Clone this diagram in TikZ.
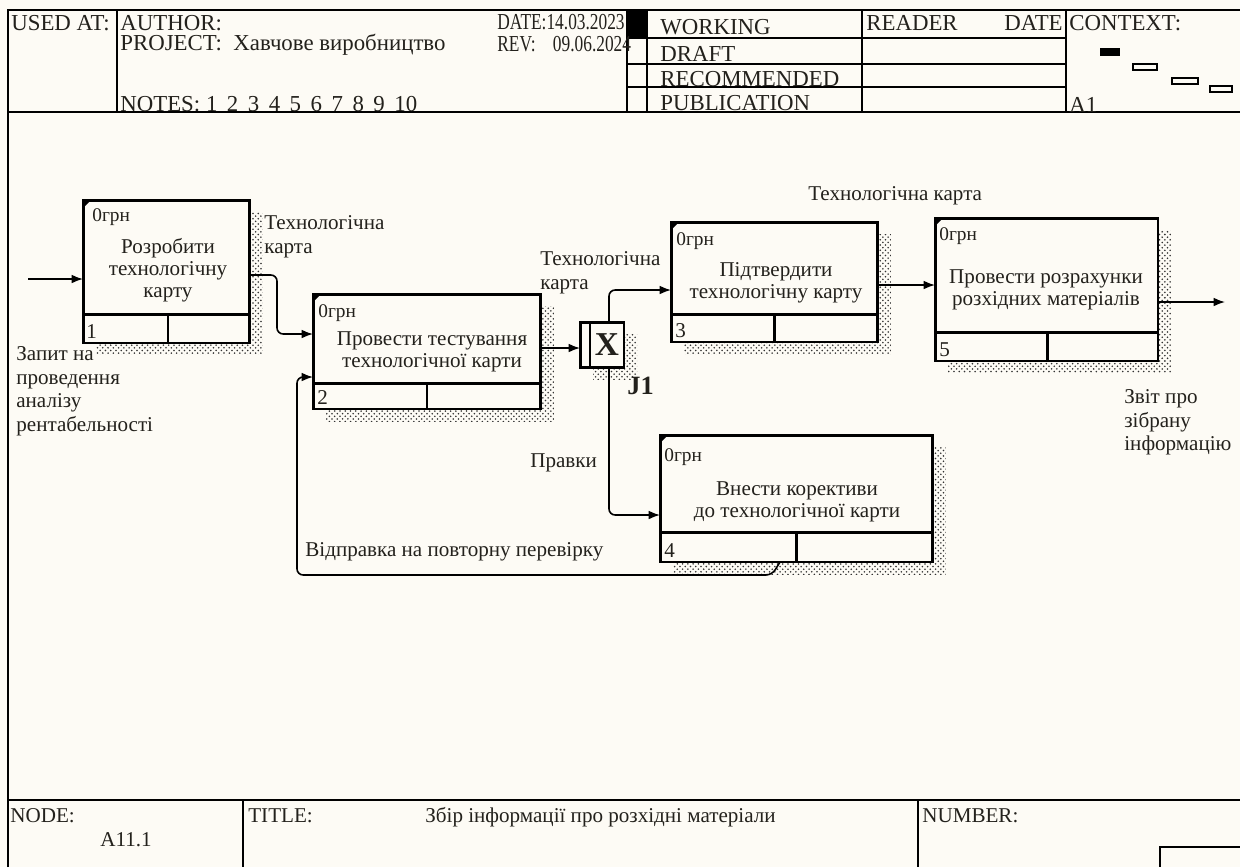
\documentclass[tikz,border=0pt]{standalone}
\usepackage{fontspec}
\setmainfont{Liberation Serif}
\newfontfamily\narrowserif[FakeStretch=0.76]{Liberation Serif}
\usepackage{tikz}
\usetikzlibrary{arrows.meta, patterns, shadows, positioning}

\definecolor{pagebg}{RGB}{253,251,245}
\definecolor{ink}{RGB}{35,33,28}

\tikzset{
  actbox/.style={draw, fill=pagebg, line width=1.7pt, inner sep=0pt, outer sep=0pt,
    general shadow={shadow xshift=0.26cm, shadow yshift=-0.24cm, pattern=crosshatch dots, pattern color=black!80}},
  flow/.style={line width=0.9pt, -{Latex[length=6.5pt, width=5pt]}, rounded corners=3.5pt},
  frame/.style={line width=1pt},
  hdr/.style={font=\fontsize{13}{15}\selectfont, text=ink, inner sep=0pt, anchor=base west},
  lbl/.style={font=\fontsize{12}{13.5}\selectfont, text=ink, inner sep=0pt, align=left, anchor=north west},
  boxtext/.style={font=\fontsize{12}{12.5}\selectfont, text=ink, inner sep=0pt, align=center},
  cost/.style={font=\fontsize{11}{12}\selectfont, text=ink, inner sep=0pt, anchor=base west},
}

\begin{document}
\begin{tikzpicture}[x=0.02cm, y=-0.02cm]
        \useasboundingbox (0,0) rectangle (1240,867);
        \fill[pagebg] (0,0) rectangle (1240,867);

        % Header frame
        \draw[frame] (8,867) -- (8,10) -- (1240,10);
        \draw[frame] (8,112) -- (1240,112);
        \draw[frame] (117,10) -- (117,112);
        \draw[frame] (627,10) -- (627,112);
        \draw[frame] (647,10) -- (647,112);
        \draw[frame] (862,10) -- (862,112);
        \draw[frame] (1066,10) -- (1066,112);
        \draw[frame] (627,38) -- (1066,38);
        \draw[frame] (627,64) -- (1066,64);
        \draw[frame] (627,87) -- (1066,87);
        \fill (627,10) rectangle (647,38);

        \node[hdr] (usedat) at (11,30) {USED AT:};
        \node[hdr] (author) at (120,30) {AUTHOR:};
        \node[hdr] (project) at (120,50) {PROJECT:\ \ Хавчове виробництво};
        \node[hdr] (notes) at (120,111) {NOTES:\ 1\ \,2\ \,3\ \,4\ \,5\ \,6\ \,7\ \,8\ \,9\ \,10};
        \node[hdr, font=\narrowserif\fontsize{13}{15}\selectfont] (date) at (497,29) {DATE:14.03.2023};
        \node[hdr, font=\narrowserif\fontsize{13}{15}\selectfont] (rev) at (497,51) {REV:\ \ \ \ 09.06.2024};
        \node[hdr] (working) at (660,34) {WORKING};
        \node[hdr] (draft) at (660,61) {DRAFT};
        \node[hdr] (recomm) at (660,86) {RECOMMENDED};
        \node[hdr] (public) at (660,110) {PUBLICATION};
        \node[hdr] (reader) at (866,30) {READER};
        \node[hdr, anchor=base east] (rdate) at (1063,30) {DATE};
        \node[hdr] (context) at (1069,30) {CONTEXT:};
        \node[hdr] (ctxa) at (1069,112) {A1};
        \fill (1100,48) rectangle (1120,56);
        \draw[line width=0.8pt] (1133,64) rectangle (1157,70);
        \draw[line width=0.8pt] (1172,78) rectangle (1198,84);
        \draw[line width=0.8pt] (1210,86) rectangle (1232,92);

        % Footer frame
        \draw[frame] (8,800) -- (1240,800);
        \draw[frame] (243,800) -- (243,867);
        \draw[frame] (918,800) -- (918,867);
        \draw[frame] (1240,847) -- (1160,847) -- (1160,867);
        \node[hdr, font=\fontsize{12}{14}\selectfont] (nodelbl) at (10,822) {NODE:};
        \node[hdr, font=\fontsize{12}{14}\selectfont] (nodeid) at (100,846) {A11.1};
        \node[hdr, font=\fontsize{12}{14}\selectfont] (titlelbl) at (248,822) {TITLE:};
        \node[hdr, font=\fontsize{12}{14}\selectfont] (title) at (425,822) {Збір інформації про розхідні матеріали};
        \node[hdr, font=\fontsize{12}{14}\selectfont] (numlbl) at (922,822) {NUMBER:};

        % Activity boxes
        \node[actbox, minimum width=3.34cm, minimum height=2.86cm] (b1) at (166.5,271.5) {};
        \node[actbox, minimum width=4.56cm, minimum height=2.30cm] (b2) at (427,351.5) {};
        \node[actbox, minimum width=4.14cm, minimum height=2.40cm] (b3) at (774.5,282) {};
        \node[actbox, minimum width=5.46cm, minimum height=2.54cm] (b4) at (796.5,498.5) {};
        \node[actbox, minimum width=4.46cm, minimum height=2.86cm] (b5) at (1046.5,289.5) {};
        \node[actbox, minimum width=0.88cm, minimum height=0.90cm] (j1) at (602,344.5) {};

        % Box dividers
        \draw[line width=1.7pt] (b1.west |- 0,314) -- (b1.east |- 0,314) (b1.south -| 168,0) -- (168,314);
        \draw[line width=1.7pt] (b2.west |- 0,383) -- (b2.east |- 0,383) (b2.south -| 427,0) -- (427,383);
        \draw[line width=1.7pt] (b3.west |- 0,314) -- (b3.east |- 0,314) (b3.south -| 774,0) -- (774,314);
        \draw[line width=1.7pt] (b4.west |- 0,532) -- (b4.east |- 0,532) (b4.south -| 796,0) -- (796,532);
        \draw[line width=1.7pt] (b5.west |- 0,332) -- (b5.east |- 0,332) (b5.south -| 1047,0) -- (1047,332);
        \draw[line width=1pt] (j1.north -| 590,0) -- (j1.south -| 590,0);

        % Corner marks
        \fill (b1.north west) -- ++(8,0) -- ++(-8,8) -- cycle;
        \fill (b2.north west) -- ++(8,0) -- ++(-8,8) -- cycle;
        \fill (b3.north west) -- ++(8,0) -- ++(-8,8) -- cycle;
        \fill (b4.north west) -- ++(8,0) -- ++(-8,8) -- cycle;
        \fill (b5.north west) -- ++(8,0) -- ++(-8,8) -- cycle;

        % Box texts
        \node[boxtext] (b1t) at (168,270) {Розробити\\технологічну\\карту};
        \node[boxtext] (b2t) at (432,352) {Провести тестування\\технологічної карти};
        \node[boxtext] (b3t) at (776,283) {Підтвердити\\технологічну карту};
        \node[boxtext] (b4t) at (797,502) {Внести корективи\\до технологічної карти};
        \node[boxtext] (b5t) at (1046,290) {Провести розрахунки\\розхідних матеріалів};
        \node[cost] (b1c) at (92,221) {0грн};
        \node[cost] (b2c) at (318,317) {0грн};
        \node[cost] (b3c) at (676,245) {0грн};
        \node[cost] (b4c) at (664,461) {0грн};
        \node[cost] (b5c) at (939,240) {0грн};
        \node[cost, font=\fontsize{12}{12}\selectfont] (b1n) at (86,338) {1};
        \node[cost, font=\fontsize{12}{12}\selectfont] (b2n) at (317,404) {2};
        \node[cost, font=\fontsize{12}{12}\selectfont] (b3n) at (675,337) {3};
        \node[cost, font=\fontsize{12}{12}\selectfont] (b4n) at (664,557) {4};
        \node[cost, font=\fontsize{12}{12}\selectfont] (b5n) at (939,356) {5};
        \node[font=\bfseries\fontsize{19}{19}\selectfont, text=ink, inner sep=0pt] (jx) at (607,345) {X};
        \node[font=\bfseries\fontsize{15}{15}\selectfont, text=ink, inner sep=0pt, anchor=base west] (jl) at (627,394) {J1};

        % Directed edges
        \coordinate (in1) at (28,279);
        \coordinate (out5) at (1225,302);
        \draw[flow] (in1) -- (in1 -| b1.west);
        \draw[flow] (b1.east |- 0,275) -- (277,275) -- (277,334) -- (b2.west |- 0,334);
        \draw[flow] (b2.east |- 0,348) -- (j1.west |- 0,348);
        \draw[flow] (j1.north -| 609,0) -- (609,290) -- (b3.west |- 0,290);
        \draw[flow] (j1.south -| 609,0) -- (609,515) -- (b4.west |- 0,515);
        \draw[flow] (b4.south -| 780,0) -- (772,575) -- (297,575) -- (297,377) -- (b2.west |- 0,377);
        \draw[flow] (b3.east |- 0,285) -- (b5.west |- 0,285);
        \draw[flow] (b5.east |- 0,302) -- (out5);

        % Edge labels
        \node[lbl] (l1) at (264,215) {Технологічна\\карта};
        \node[lbl] (l2) at (540,251) {Технологічна\\карта};
        \node[lbl, anchor=base west] (l3) at (808,200) {Технологічна карта};
        \node[lbl, anchor=base west] (l4) at (530,467) {Правки};
        \node[lbl, anchor=base west] (l5) at (305,556) {Відправка на повторну перевірку};
        \node[lbl] (l6) at (16,346) {Запит на\\проведення\\аналізу\\рентабельності};
        \node[lbl] (l7) at (1124,389) {Звіт про\\зібрану\\інформацію};
    \end{tikzpicture}
\end{document}
